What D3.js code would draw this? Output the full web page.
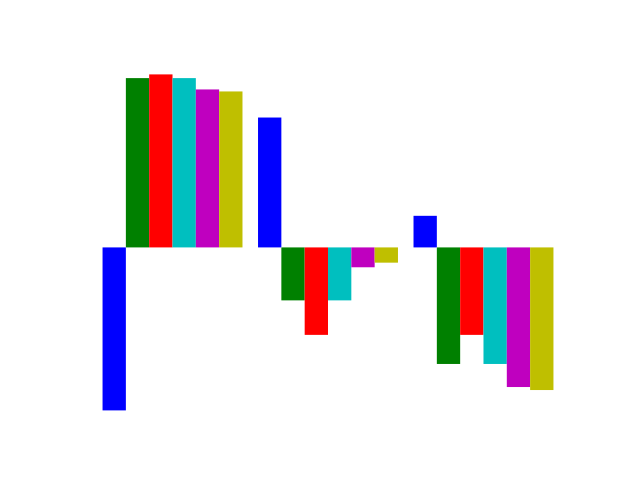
<!DOCTYPE html>
<html>
<head>
<meta charset="utf-8">
<script src="https://cdn.jsdelivr.net/npm/d3@7"></script>
<style>
  html, body { margin: 0; padding: 0; background: #ffffff; }
</style>
</head>
<body>
<svg id="chart" width="640" height="480"></svg>
<script>
const groups = [0, 1, 2];
const seriesNames = ["blue", "green", "red", "cyan", "magenta", "yellow"];
const seriesColors = ["#0000ff", "#008000", "#ff0000", "#00bfbf", "#bf00bf", "#bfbf00"];
const blueValues = [-1.625, 1.295, 0.315];
const greenValues = [1.688, -0.528, -1.162];
const redValues = [1.725, -0.872, -0.872];
const cyanValues = [1.688, -0.528, -1.162];
const magentaValues = [1.575, -0.198, -1.392];
const yellowValues = [1.555, -0.152, -1.422];
const seriesValues = [blueValues, greenValues, redValues, cyanValues, magentaValues, yellowValues];
const barWidth = 0.15;

(function () {
  const svg = d3.select("#chart");
  const W = 640, H = 480;
  const pLeft = 0.125 * W, pRight = 0.9 * W, pTop = 0.12 * H, pBottom = 0.89 * H;

  const xMin = d3.min(groups) - barWidth / 2;
  const xMax = d3.max(groups) + (seriesValues.length - 1) * barWidth + barWidth / 2;
  const xPad = (xMax - xMin) * 0.05;
  const x = d3.scaleLinear().domain([xMin - xPad, xMax + xPad]).range([pLeft, pRight]);

  const allVals = seriesValues.flat().concat([0]);
  const yLo = d3.min(allVals), yHi = d3.max(allVals);
  const yPad = (yHi - yLo) * 0.05;
  const y = d3.scaleLinear().domain([yLo - yPad, yHi + yPad]).range([pBottom, pTop]);

  const bars = [];
  seriesValues.forEach((vals, s) => {
    vals.forEach((v, g) => {
      bars.push({ s, g, v, xc: groups[g] + s * barWidth });
    });
  });

  svg.append("g").selectAll("rect").data(bars).join("rect")
    .attr("x", d => x(d.xc - barWidth / 2))
    .attr("width", d => x(d.xc + barWidth / 2) - x(d.xc - barWidth / 2))
    .attr("y", d => y(Math.max(0, d.v)))
    .attr("height", d => Math.abs(y(d.v) - y(0)))
    .attr("fill", d => seriesColors[d.s]);
})();
</script>
</body>
</html>
